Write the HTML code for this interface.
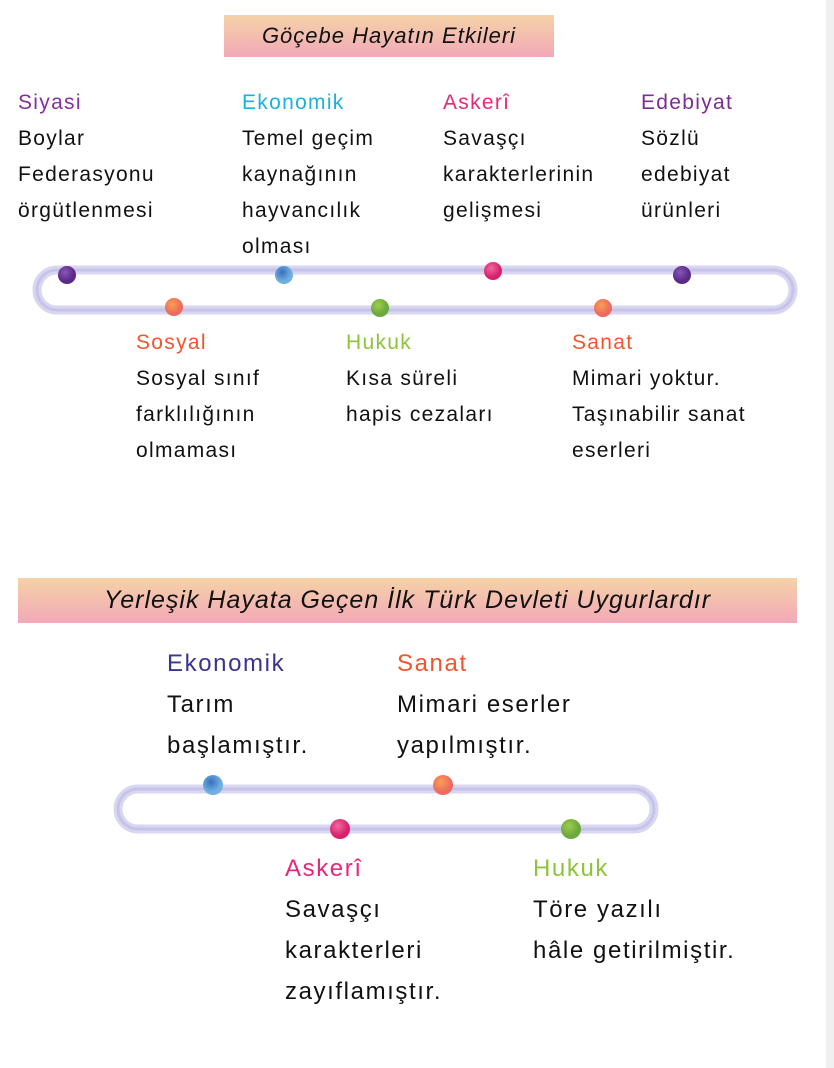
<!DOCTYPE html>
<html><head><meta charset="utf-8"><style>
body{margin:0;width:834px;height:1068px;background:#fff;position:relative;overflow:hidden;font-family:"Liberation Sans","DejaVu Sans",sans-serif;}
.b{position:absolute;line-height:36px;font-size:21px;color:#111;white-space:nowrap;letter-spacing:1.3px}
.b2{position:absolute;line-height:41px;font-size:24px;color:#111;white-space:nowrap;letter-spacing:1.6px}
.ban{position:absolute;background:linear-gradient(#f5d2a6,#f2a9b8);text-align:center;color:#111;font-style:italic;letter-spacing:1px}
.strip{position:absolute;right:0;top:0;width:8px;height:1068px;background:#f0f0f0}
</style></head><body>
<div class="strip"></div>
<div class="ban" style="left:224px;top:15px;width:330px;height:42px;line-height:42px;font-size:22px">Göçebe Hayatın Etkileri</div>
<div class="ban" style="left:18px;top:578px;width:779px;height:45px;line-height:45px;font-size:25px">Yerleşik Hayata Geçen İlk Türk Devleti Uygurlardır</div>

<div class="b" style="left:18px;top:85px"><span style="color:#8a2d9e">Siyasi</span><br>Boylar<br>Federasyonu<br>örgütlenmesi</div>
<div class="b" style="left:242px;top:85px"><span style="color:#1ab0e0">Ekonomik</span><br>Temel geçim<br>kaynağının<br>hayvancılık<br>olması</div>
<div class="b" style="left:443px;top:85px"><span style="color:#e6287a">Askerî</span><br>Savaşçı<br>karakterlerinin<br>gelişmesi</div>
<div class="b" style="left:641px;top:85px"><span style="color:#7b2c95">Edebiyat</span><br>Sözlü<br>edebiyat<br>ürünleri</div>

<div class="b" style="left:136px;top:325px"><span style="color:#f2552e">Sosyal</span><br>Sosyal sınıf<br>farklılığının<br>olmaması</div>
<div class="b" style="left:346px;top:325px"><span style="color:#8cc43a">Hukuk</span><br>Kısa süreli<br>hapis cezaları</div>
<div class="b" style="left:572px;top:325px"><span style="color:#f2552e">Sanat</span><br>Mimari yoktur.<br>Taşınabilir sanat<br>eserleri</div>

<div class="b2" style="left:167px;top:643px"><span style="color:#3a3490">Ekonomik</span><br>Tarım<br>başlamıştır.</div>
<div class="b2" style="left:397px;top:643px"><span style="color:#f2552e">Sanat</span><br>Mimari eserler<br>yapılmıştır.</div>
<div class="b2" style="left:285px;top:848px"><span style="color:#e6287a">Askerî</span><br>Savaşçı<br>karakterleri<br>zayıflamıştır.</div>
<div class="b2" style="left:533px;top:848px"><span style="color:#8cc43a">Hukuk</span><br>Töre yazılı<br>hâle getirilmiştir.</div>

<svg width="834" height="1068" style="position:absolute;left:0;top:0">
<defs>
<radialGradient id="pu" cx="40%" cy="35%"><stop offset="0" stop-color="#8a55b8"/><stop offset="1" stop-color="#5a2a86"/></radialGradient>
<radialGradient id="bl" cx="40%" cy="35%"><stop offset="0" stop-color="#3a6fc0"/><stop offset="1" stop-color="#6fb0e0"/></radialGradient>
<radialGradient id="pk" cx="40%" cy="35%"><stop offset="0" stop-color="#f06aa0"/><stop offset="1" stop-color="#d8206a"/></radialGradient>
<radialGradient id="or" cx="40%" cy="35%"><stop offset="0" stop-color="#f7a050"/><stop offset="1" stop-color="#ee6a60"/></radialGradient>
<radialGradient id="gr" cx="40%" cy="35%"><stop offset="0" stop-color="#9cce50"/><stop offset="1" stop-color="#6ca83a"/></radialGradient>
</defs>
<rect x="37" y="270" width="756" height="40" rx="20" fill="none" stroke="#d8d6f0" stroke-width="9"/>
<rect x="37" y="270" width="756" height="40" rx="20" fill="none" stroke="#c6c3e8" stroke-width="3"/>
<circle cx="67" cy="275" r="9" fill="url(#pu)"/>
<circle cx="284" cy="275" r="9" fill="url(#bl)"/>
<circle cx="493" cy="271" r="9" fill="url(#pk)"/>
<circle cx="682" cy="275" r="9" fill="url(#pu)"/>
<circle cx="174" cy="307" r="9" fill="url(#or)"/>
<circle cx="380" cy="308" r="9" fill="url(#gr)"/>
<circle cx="603" cy="308" r="9" fill="url(#or)"/>

<rect x="118" y="789" width="536" height="40" rx="20" fill="none" stroke="#d8d6f0" stroke-width="9"/>
<rect x="118" y="789" width="536" height="40" rx="20" fill="none" stroke="#c6c3e8" stroke-width="3"/>
<circle cx="213" cy="785" r="10" fill="url(#bl)"/>
<circle cx="443" cy="785" r="10" fill="url(#or)"/>
<circle cx="340" cy="829" r="10" fill="url(#pk)"/>
<circle cx="571" cy="829" r="10" fill="url(#gr)"/>
</svg>
</body></html>
